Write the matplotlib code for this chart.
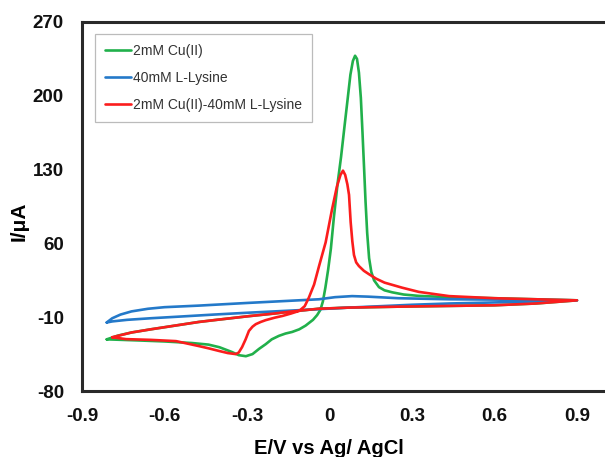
import matplotlib
matplotlib.use("Agg")
import matplotlib.pyplot as plt

plt.rcParams["font.family"] = ["Liberation Sans", "DejaVu Sans"]
plt.rcParams["axes.unicode_minus"] = False

# ---- data (E in V, I in uA), each a closed loop
cu_E = [-0.81, -0.7, -0.6, -0.5, -0.44, -0.4, -0.355, -0.33, -0.304, -0.28,
        -0.256, -0.232, -0.21, -0.184, -0.16, -0.136, -0.11, -0.087, -0.06,
        -0.045, -0.033, -0.024, -0.015, -0.005, 0.005, 0.016, 0.03, 0.042,
        0.055, 0.066, 0.076, 0.085, 0.093, 0.1, 0.107, 0.114, 0.12, 0.126,
        0.131, 0.137, 0.144, 0.152, 0.162, 0.18, 0.2, 0.228, 0.27, 0.325,
        0.435, 0.6, 0.75, 0.9,
        0.75, 0.6, 0.435, 0.25, 0.07, -0.04, -0.136, -0.2, -0.293, -0.42,
        -0.475, -0.55, -0.65, -0.72, -0.77, -0.81]
cu_I = [-31, -32, -33, -34.5, -36, -38.5, -43, -46, -47, -45,
        -40, -35.6, -31, -27.7, -25.5, -24, -21.5, -18, -12.5,
        -8, -3, 5, 18, 35, 55, 85, 118, 142,
        172, 197, 220, 233, 238, 235, 222, 198, 165, 130,
        100, 70, 46, 33, 25, 18.5, 15.5, 13.6, 11.5, 10.2,
        9, 8, 7, 6,
        3, 1.3, 0.7, 0, -0.9, -2, -4.5, -6.5, -9, -12.8,
        -14.5, -17.5, -21.5, -24.5, -27.5, -31]

lys_E = [-0.81, -0.79, -0.76, -0.72, -0.66, -0.6, -0.475, -0.3, -0.15,
         -0.038, 0.02, 0.082, 0.14, 0.25, 0.435, 0.6, 0.9,
         0.6, 0.435, 0.3, 0.071, -0.1, -0.3, -0.42, -0.55, -0.65, -0.736,
         -0.79, -0.81]
lys_I = [-15, -11, -7.5, -4.5, -2, -0.5, 1, 3.5, 5.5,
         7, 9, 10, 9.5, 8, 7, 6.7, 6,
         4, 3, 1.8, -0.9, -3.2, -5.8, -7.5, -9.5, -11, -12.5,
         -14, -15]

mix_E = [-0.79, -0.74, -0.65, -0.558, -0.475, -0.44, -0.402, -0.37, -0.341,
         -0.33, -0.318, -0.305, -0.293, -0.28, -0.268, -0.25, -0.232, -0.2,
         -0.171, -0.14, -0.11, -0.09, -0.075, -0.056, -0.038, -0.014, 0.009,
         0.027, 0.04, 0.049, 0.057, 0.065, 0.071, 0.077, 0.083, 0.089,
         0.097, 0.107, 0.125, 0.144, 0.17, 0.2, 0.264, 0.325, 0.435, 0.6,
         0.75, 0.9,
         0.75, 0.6, 0.435, 0.25, 0.07, -0.04, -0.136, -0.2, -0.293, -0.42,
         -0.475, -0.55, -0.65, -0.72, -0.79]
mix_I = [-29, -30.8, -31.5, -32.7, -37.4, -39.5, -42, -44, -45,
         -43.5, -38.4, -31, -23, -19, -16.6, -14.5, -12.8, -10.5,
         -8.8, -6.5, -4, 0.5, 8.6, 21, 38.5, 61, 92,
         114, 125, 129, 125, 116, 106, 80, 62, 49,
         42, 38.5, 34, 30.7, 26.5, 22.8, 18, 14, 10, 8,
         7, 6,
         3, 1.3, 0.7, 0, -0.9, -2, -4.5, -6.5, -9, -12.8,
         -14.5, -17.5, -21.5, -24.5, -29]

SERIES = [
    ("2mM Cu(II)", cu_E, cu_I, "#21b04b"),
    ("40mM L-Lysine", lys_E, lys_I, "#2479c9"),
    ("2mM Cu(II)-40mM L-Lysine", mix_E, mix_I, "#fb1d1d"),
]

x_ticks = [-0.9, -0.6, -0.3, 0, 0.3, 0.6, 0.9]
x_labels = ["-0.9", "-0.6", "-0.3", "0", "0.3", "0.6", "0.9"]
y_ticks = [-80, -10, 60, 130, 200, 270]

fig = plt.figure(figsize=(6.05, 4.57), dpi=100)
W, H = 605, 457
ax = fig.add_axes([82 / W, 1 - 391 / H, (605 - 82) / W, (391 - 22) / H])

for label, e, i, color in SERIES:
    ax.plot(e, i, color=color, lw=1.9, label=label,
            solid_joinstyle="round", solid_capstyle="round")

ax.set_xlim(-0.9, -0.9 + (605 - 82) * 0.3 / 82.5)
ax.set_ylim(-80, 270)
ax.set_xticks(x_ticks)
ax.set_xticklabels(x_labels)
ax.set_yticks(y_ticks)
ax.tick_params(length=0, labelsize=13.5, colors="#111111")
ax.tick_params(axis="y", pad=13)
ax.tick_params(axis="x", pad=12)
for lab in ax.get_xticklabels() + ax.get_yticklabels():
    lab.set_fontweight("bold")

for side in ("left", "bottom", "top"):
    ax.spines[side].set_linewidth(2.2)
    ax.spines[side].set_color("#2a2a2a")
ax.spines["right"].set_visible(False)

fig.text(19 / W, 1 - 221 / H, "I/\u03bcA", rotation=90, ha="center",
         va="center", fontsize=15, fontweight="bold")
fig.text(329 / W, 1 - 449 / H, "E/V vs Ag/ AgCl", ha="center", va="center",
         fontsize=14.5, fontweight="bold")

leg = ax.legend(loc="upper left", bbox_to_anchor=(95 / W, 1 - 34 / H),
                bbox_transform=fig.transFigure, fontsize=10,
                frameon=True, fancybox=False, handlelength=1.9,
                handletextpad=0.15, labelspacing=0.95, borderpad=0.7,
                borderaxespad=0)
leg.get_frame().set_edgecolor("#aaaaaa")
leg.get_frame().set_linewidth(0.9)
for t in leg.get_texts():
    t.set_color("#333333")

fig.savefig("out.png", dpi=100)
